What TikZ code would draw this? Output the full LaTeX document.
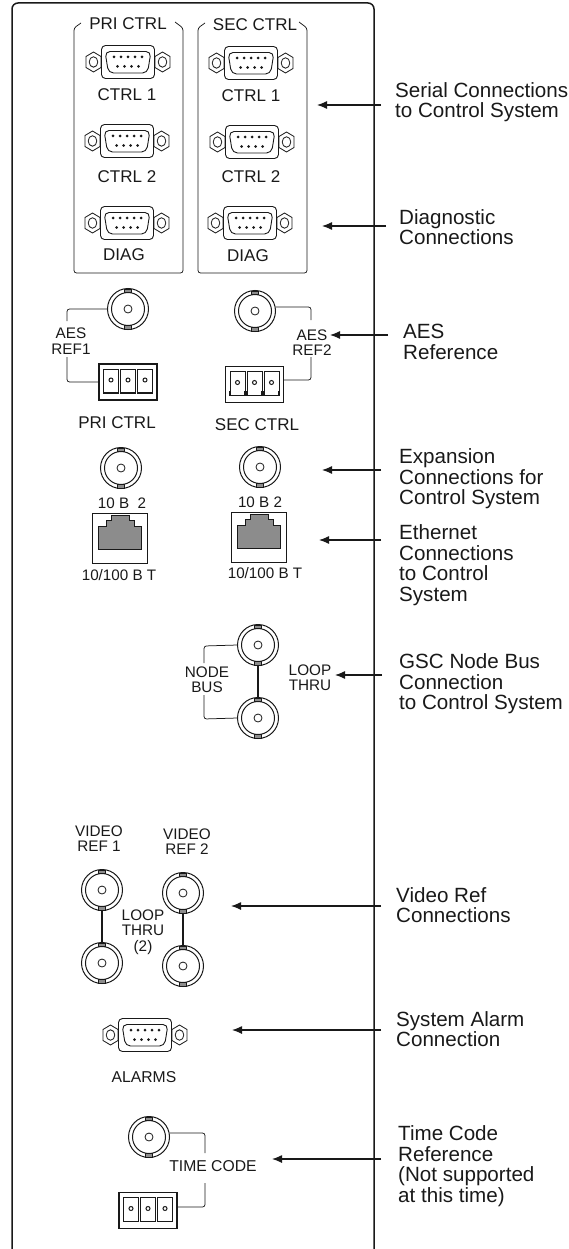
\documentclass[tikz,border=0pt]{standalone}
\usepackage{fontspec}
\setmainfont{Liberation Sans}
\definecolor{ink}{gray}{0.1}
\definecolor{jack}{gray}{0.55}
\tikzset{
  panel/.style={draw=ink,line width=1.5pt},
  thin line/.style={draw=ink,line width=0.8pt},
  bracket/.style={draw=ink,line width=0.75pt,rounded corners=2.5pt},
  lbl/.style={font=\fontsize{17}{17}\selectfont,text=ink,inner sep=0pt,align=center},
  sm/.style={font=\fontsize{15.3}{15.5}\selectfont,text=ink,inner sep=0pt,align=center},
  mid/.style={font=\fontsize{15.2}{16}\selectfont,text=ink,inner sep=0pt,align=center},
  callout/.style={font=\fontsize{20.6}{20.6}\selectfont,text=ink,inner sep=0pt,align=left,anchor=west},
  pointer/.style={draw=ink,line width=1.2pt,-{Latex[length=10pt,width=8pt]}},
  bare/.style={inner sep=0pt,minimum size=0pt},
  loop/.style={draw=ink,line width=1.7pt},
}
\usetikzlibrary{arrows.meta}
% D-sub connector
\newcommand{\dsub}[3]{%
 \begin{scope}[shift={(#2,#3)}]
  \node[bare] (#1) at (0,0) {};
  \draw[thin line,line width=0.9pt,rounded corners=4pt] (-26.5,-16.5) rectangle (26.5,16.5);
  \draw[thin line,line width=0.9pt,rounded corners=5pt] (-23,-10.5) -- (23,-10.5) -- (19.5,11) -- (-19.5,11) -- cycle;
  \foreach \x in {-14,-7,0,7,14} \fill[ink] (\x,-5) circle (1.5);
  \foreach \x in {-10.5,-3.5,3.5,10.5} \fill[ink] (\x,4.5) circle (1.5);
  \foreach \s in {-1,1} {
    \begin{scope}[shift={(\s*34.5,0)}]
    \draw[thin line] (0,-10) -- (7.5,-5.5) -- (7.5,5.5) -- (0,10) -- (-7.5,5.5) -- (-7.5,-5.5) -- cycle;
    \draw[thin line] (0,0) ellipse (4.3 and 5.2);
    \end{scope}
  }
 \end{scope}}
% BNC connector
\newcommand{\bnc}[3]{%
 \begin{scope}[shift={(#2,#3)}]
  \node[bare,circle,minimum size=41pt] (#1) at (0,0) {};
  \draw[thin line,line width=1pt] (0,0) circle (20.5);
  \draw[thin line,line width=1pt] (0,0) circle (16.5);
  \draw[thin line,line width=0.8pt] (0,0) circle (4);
  \foreach \s in {-1,1} \filldraw[fill=jack,draw=ink,line width=0.5pt] (-3.5,\s*16.7) rectangle (3.5,\s*20.2);
 \end{scope}}
% Terminal block
\newcommand{\tblock}[3]{%
 \begin{scope}[shift={(#2,#3)}]
  \node[bare,rectangle,minimum width=58pt,minimum height=36pt] (#1) at (0,0) {};
  \draw[thin line,line width=1.3pt] (-29,-18) rectangle (29,18);
  \foreach \x in {-17,0,17} {
    \draw[thin line,line width=0.9pt] (\x-7.5,6) -- (\x-7.5,-13) -- (\x+7.5,-13) -- (\x+7.5,6);
    \draw[thin line,line width=1.1pt] (\x-7.5,6) -- (\x-7.5,11) -- (\x+7.5,11) -- (\x+7.5,6);
    \draw[thin line,line width=1pt] (\x,-2) circle (2);
  }
 \end{scope}}
% RJ-45 jack
\newcommand{\rjack}[3]{%
 \begin{scope}[shift={(#2,#3)}]
  \node[bare,rectangle,minimum width=55pt,minimum height=50pt,anchor=north west] (#1) at (0,0) {};
  \draw[thin line] (0,0) rectangle (55,50);
  \filldraw[fill=jack,draw=ink,line width=0.7pt] (6,13) -- (14,13) -- (14,7) -- (19,7) -- (19,2) -- (37,2) -- (37,7) -- (42,7) -- (42,13) -- (49,13) -- (49,36) -- (6,36) -- cycle;
 \end{scope}}
\begin{document}
\begin{tikzpicture}[x=1pt,y=-1pt]
\useasboundingbox (0,0) rectangle (569,1249);
% panel
\draw[panel,rounded corners=6pt] (12,1249) -- (12,3) -- (374,3) -- (374,1249);
% groups
\draw[bracket] (81,23) -- (74,28) -- (74,273) -- (183,273) -- (183,28) -- (175,22);
\draw[bracket] (205,23) -- (198,28) -- (198,273) -- (307,273) -- (307,28) -- (299,22);
\node[lbl] (tpri) at (128,24) {PRI CTRL};
\node[lbl] (tsec) at (255,25) {SEC CTRL};
\dsub{p1}{128}{62} \dsub{s1}{251}{63}
\dsub{p2}{127}{141} \dsub{s2}{252}{142}
\dsub{p3}{127}{223} \dsub{s3}{250}{223}
\node[lbl] at (127,95) (lp1) {CTRL 1};
\node[lbl] at (251,96) (ls1) {CTRL 1};
\node[lbl] at (127,177) (lp2) {CTRL 2};
\node[lbl] at (251,177) (ls2) {CTRL 2};
\node[lbl] at (124,255) (lp3) {DIAG};
\node[lbl] at (248,256) (ls3) {DIAG};
% AES
\bnc{ba1}{128}{309} \bnc{ba2}{255}{311}
\tblock{ta1}{128}{382} \tblock{ta2}{254.5}{384.5}
\node[sm] (laes1) at (71,341) {AES\\[-.1pt]REF1};
\node[sm] (laes2) at (312,342.5) {AES\\[-.1pt]REF2};
\draw[bracket] (ba1.west |- 0,309) -- (67,309) -- (67,321);
\draw[bracket] (67,357) -- (67,382) -- (ta1.west);
\draw[bracket] (ba2.east |- 0,307) -- (311,307) -- (311,320);
\draw[bracket] (311,357) -- (311,380) -- (ta2.east |- 0,380);
\node[lbl] (lpc) at (117,423) {PRI CTRL};
\node[lbl] (lsc) at (257,425) {SEC CTRL};
% expansion
\bnc{be1}{121}{468} \bnc{be2}{260}{467}
\node[mid] (l10a) at (122,503) {10 B\ \ 2};
\node[mid] (l10b) at (260,502) {10 B 2};
\rjack{r1}{92}{513} \rjack{r2}{231}{512}
\node[mid] (lr1) at (119,575) {10/100 B T};
\node[mid] (lr2) at (265,573) {10/100 B T};
% node bus
\bnc{g1}{258}{645} \bnc{g2}{258}{718}
\draw[loop] (g1.south) -- (g2.north);
\draw[bracket] (g1.west) -- (204,646) -- (204,663);
\draw[bracket] (204,695) -- (204,719) -- (g2.west);
\node[sm] (lnb) at (207,679.5) {NODE\\[-.1pt]BUS};
\node[sm] (llt) at (310,677.5) {LOOP\\[-.1pt]THRU};
% video
\bnc{v1}{102}{890} \bnc{v2}{102}{963} \bnc{v3}{183}{893} \bnc{v4}{183}{966}
\draw[loop] (v1.south) -- (v2.north);
\draw[loop] (v3.south) -- (v4.north);
\node[sm] (lv1) at (99,838.5) {VIDEO\\[-.1pt]REF 1};
\node[sm] (lv2) at (187,841.5) {VIDEO\\[-.1pt]REF 2};
\node[sm] (llp) at (143,932.5) {LOOP\\[-.1pt]THRU\\[.5pt](2)};
% alarms
\dsub{al}{145}{1035}
\node[sm,font=\fontsize{15.7}{16}\selectfont] (lal) at (144,1077) {ALARMS};
% time code
\bnc{tc}{149}{1137}
\tblock{ttc}{148}{1210.5}
\node[sm,font=\fontsize{15.7}{16}\selectfont] (ltc) at (213,1166) {TIME CODE};
\draw[bracket] (tc.east |- 0,1133) -- (205,1133) -- (205,1153);
\draw[bracket] (205,1183) -- (205,1207) -- (ttc.east |- 0,1207);
% callouts
\node[callout] (c1) at (395,102) {Serial Connections\\to Control System};
\node[callout] (c2) at (399,227) {Diagnostic\\Connections};
\node[callout] (c3) at (403,342) {AES\\Reference};
\node[callout] (c4) at (399,479) {Expansion\\Connections for\\Control System};
\node[callout] (c5) at (399,565) {Ethernet\\Connections\\to Control\\System};
\node[callout] (c6) at (399,684) {GSC Node Bus\\Connection\\to Control System};
\node[callout] (c7) at (396,905) {Video Ref\\Connections};
\node[callout] (c8) at (396,1029) {System Alarm\\Connection};
\node[callout] (c9) at (398,1166) {Time Code\\Reference\\(Not supported\\at this time)};
\foreach \n/\y/\a/\b in {a/105/381/317,b/226/386/322,c/335/388/330,d/470/381/322,e/540/381/319,f/675/382/335,g/906/381/231,h/1030/381/232,i/1159/381/272}{
  \coordinate (s\n) at (\a,\y);
  \coordinate (t\n) at (\b,\y);
  \draw[pointer] (s\n) -- (t\n);
}
\end{tikzpicture}
\end{document}
